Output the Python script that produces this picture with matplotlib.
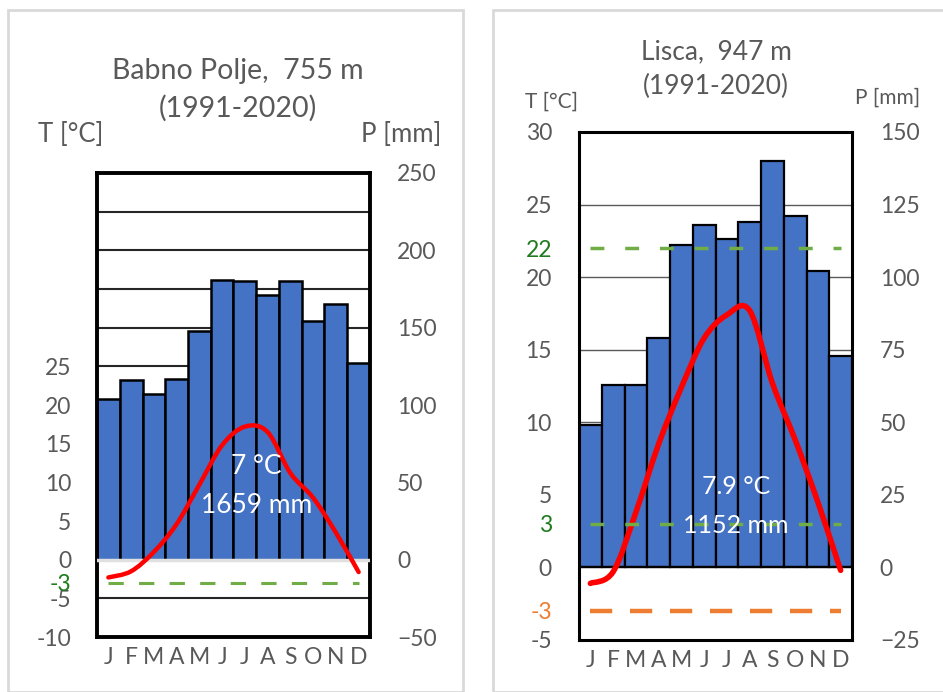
import numpy as np
import matplotlib
matplotlib.use("Agg")
import matplotlib.pyplot as plt
from matplotlib.path import Path
from matplotlib.patches import PathPatch, Rectangle

plt.rcParams['font.family'] = ['Lato', 'DejaVu Sans']

months = ['J', 'F', 'M', 'A', 'M', 'J', 'J', 'A', 'S', 'O', 'N', 'D']

# Babno Polje, 755 m
babno_precip = [104, 116, 107, 117, 148, 181, 180, 171, 180, 154, 165, 127]
babno_temp = [-2.3, -1.5, 1.0, 4.6, 9.7, 14.8, 17.2, 16.5, 11.2, 8.0, 3.5, -1.6]
babno_title = 'Babno Polje,  755 m\n(1991-2020)'
babno_text = ['7 °C', '1659 mm']

# Lisca, 947 m
lisca_precip = [49, 63, 63, 79, 111, 118, 113, 119, 140, 121, 102, 73]
lisca_temp = [-1.1, -0.3, 3.8, 8.5, 12.4, 15.8, 17.4, 17.7, 12.7, 8.8, 4.5, -0.2]
lisca_title = 'Lisca,  947 m\n(1991-2020)'
lisca_text = ['7.9 °C', '1152 mm']

GRAY = '#595959'
BLUE = '#4472C4'
GREEN = '#70AD47'
DKGREEN = '#1E7B1E'
ORANGE = '#ED7D31'


def smooth_path(xs, ys):
    # excel-like smoothed line: catmull-rom segments as bezier curves
    pts = np.column_stack([xs, ys]).astype(float)
    ext = np.vstack([pts[0], pts, pts[-1]])
    verts = [pts[0]]
    codes = [Path.MOVETO]
    for i in range(len(pts) - 1):
        p0, p1, p2, p3 = ext[i], ext[i + 1], ext[i + 2], ext[i + 3]
        verts += [p1 + (p2 - p0) / 6, p2 - (p3 - p1) / 6, p2]
        codes += [Path.CURVE4] * 3
    return Path(verts, codes)


fig = plt.figure(figsize=(9.43, 6.92), dpi=100)

# light gray frames round each chart
fig.patches.append(Rectangle((8 / 943, 0), 455 / 943, 682 / 692, transform=fig.transFigure,
                             fill=False, edgecolor='#d9d9d9', lw=2))
fig.patches.append(Rectangle((493 / 943, 0), 460 / 943, 682 / 692, transform=fig.transFigure,
                             fill=False, edgecolor='#d9d9d9', lw=2))

x = np.arange(12)

# ---- left chart ----
ax = fig.add_axes([97 / 943, 55 / 692, 273 / 943, 464 / 692])
at = ax.twinx()
ax.yaxis.tick_right()
at.yaxis.tick_left()

ax.bar(x, babno_precip, width=1.0, color=BLUE, edgecolor='black', lw=1.8, zorder=2)
ax.set_xlim(-0.5, 11.5)
ax.set_ylim(-50, 250)
ax.set_yticks(range(-50, 251, 50))
ax.set_axisbelow(True)
for g in range(-25, 250, 25):
    if g != 0:
        ax.axhline(g, color='#262626', lw=1.5, zorder=1)
ax.axhline(0, color='#e0e0e0', lw=2.5, zorder=3)
ax.set_xticks(x)
ax.set_xticklabels(months)
for s in ax.spines.values():
    s.set_linewidth(2.8)
ax.tick_params(length=0, labelsize=16.5, colors=GRAY, pad=7)
ax.tick_params(axis='y', pad=19.5)

at.set_ylim(-10, 50)
at.set_yticks([-10, -5, 0, 5, 10, 15, 20, 25, -3])
at.set_yticklabels(['-10', '-5', '0', '5', '10', '15', '20', '25', '-3'])
at.tick_params(length=0, labelsize=16.5, colors=GRAY, pad=18.5)
at.get_yticklabels()[-1].set_color(DKGREEN)
at.plot([0, 11], [-3, -3], color=GREEN, lw=2.2, dashes=(5, 5))
at.add_patch(PathPatch(smooth_path(x, babno_temp), fill=False, edgecolor='red', lw=3.2,
                       capstyle='round'))
at.text(6.5, 12.0, babno_text[0], color='white', fontsize=19, ha='center', va='center')
at.text(6.5, 7.0, babno_text[1], color='white', fontsize=19, ha='center', va='center')
for s in at.spines.values():
    s.set_visible(False)

fig.text(238 / 943, 1 - 90 / 692, babno_title, ha='center', va='center', fontsize=20.5,
         color=GRAY, linespacing=1.5)
fig.text(38 / 943, 1 - 134 / 692, 'T [°C]', ha='left', va='center', fontsize=18.5, color=GRAY)
fig.text(361 / 943, 1 - 134 / 692, 'P [mm]', ha='left', va='center', fontsize=18.5, color=GRAY)

# ---- right chart ----
bx = fig.add_axes([579 / 943, 52 / 692, 273 / 943, 508 / 692])
bt = bx.twinx()
bx.yaxis.tick_right()
bt.yaxis.tick_left()

bx.bar(x, lisca_precip, width=1.0, color=BLUE, edgecolor='black', lw=1.6, zorder=2)
bx.set_xlim(-0.5, 11.5)
bx.set_ylim(-25, 150)
bx.set_yticks(range(-25, 151, 25))
bx.set_axisbelow(True)
for g in range(25, 150, 25):
    bx.axhline(g, color='#595959', lw=1.0, zorder=1)
bx.axhline(0, color='black', lw=1.6, zorder=3)
bx.set_xticks(x)
bx.set_xticklabels(months)
for s in bx.spines.values():
    s.set_linewidth(2.2)
bx.tick_params(length=0, labelsize=16.5, colors=GRAY, pad=7)
bx.tick_params(axis='y', pad=20)

bt.set_ylim(-5, 30)
bt.set_yticks([-5, 0, 5, 10, 15, 20, 25, 30, 22, 3, -3])
bt.set_yticklabels(['-5', '0', '5', '10', '15', '20', '25', '30', '22', '3', '-3'])
bt.tick_params(length=0, labelsize=16.5, colors=GRAY, pad=19.5)
labs = bt.get_yticklabels()
labs[-3].set_color(DKGREEN)
labs[-2].set_color(DKGREEN)
labs[-1].set_color(ORANGE)
bt.plot([0, 11], [22, 22], color=GREEN, lw=2.5, dashes=(4, 6))
bt.plot([0, 11], [3, 3], color=GREEN, lw=2.5, dashes=(4, 6))
bt.plot([0, 11], [-3, -3], color=ORANGE, lw=3.2, dashes=(5, 4))
bt.add_patch(PathPatch(smooth_path(x, lisca_temp), fill=False, edgecolor='red', lw=4.0,
                       capstyle='round'))
bt.text(6.4, 5.6, lisca_text[0], color='white', fontsize=18, ha='center', va='center')
bt.text(6.4, 2.9, lisca_text[1], color='white', fontsize=18, ha='center', va='center')
for s in bt.spines.values():
    s.set_visible(False)

fig.text(716 / 943, 1 - 69 / 692, lisca_title, ha='center', va='center', fontsize=19,
         color=GRAY, linespacing=1.45)
fig.text(525 / 943, 1 - 102 / 692, 'T [°C]', ha='left', va='center', fontsize=15, color=GRAY)
fig.text(855 / 943, 1 - 98 / 692, 'P [mm]', ha='left', va='center', fontsize=15, color=GRAY)

fig.savefig('out.png', dpi=100)
